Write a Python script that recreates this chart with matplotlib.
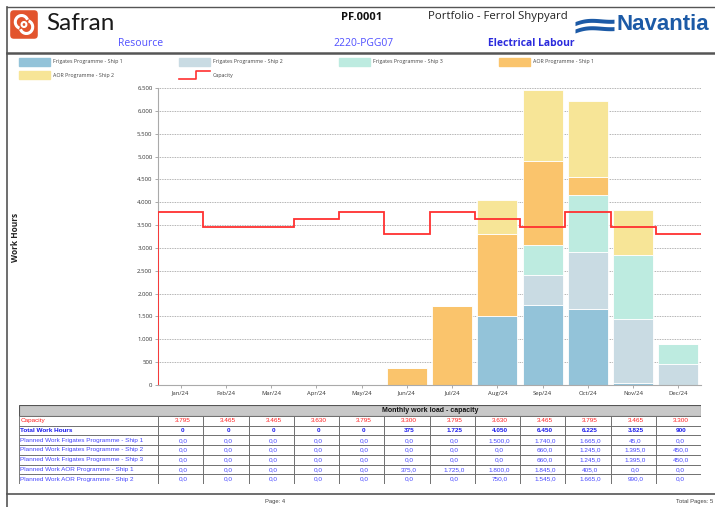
import numpy as np
import matplotlib
matplotlib.use("Agg")
import matplotlib.pyplot as plt
from matplotlib.patches import Rectangle, FancyBboxPatch, Arc
from matplotlib.lines import Line2D

# --- data -------------------------------------------------------------------
months = ["Jan/24", "Feb/24", "Mar/24", "Apr/24", "May/24", "Jun/24",
          "Jul/24", "Aug/24", "Sep/24", "Oct/24", "Nov/24", "Dec/24"]
capacity = [3795, 3465, 3465, 3630, 3795, 3300, 3795, 3630, 3465, 3795, 3465, 3300]
frig1 = [0, 0, 0, 0, 0, 0, 0, 1500, 1740, 1665, 45, 0]
frig2 = [0, 0, 0, 0, 0, 0, 0, 0, 660, 1245, 1395, 450]
frig3 = [0, 0, 0, 0, 0, 0, 0, 0, 660, 1245, 1395, 450]
aor1 = [0, 0, 0, 0, 0, 375, 1725, 1800, 1845, 405, 0, 0]
aor2 = [0, 0, 0, 0, 0, 0, 0, 750, 1545, 1665, 990, 0]

series_names = ["Frigates Programme - Ship 1", "Frigates Programme - Ship 2",
                "Frigates Programme - Ship 3", "AOR Programme - Ship 1",
                "AOR Programme - Ship 2"]
series = [frig1, frig2, frig3, aor1, aor2]
colors = ["#93c3d9", "#c9dbe3", "#bdebe0", "#fac46c", "#f7e597"]
CAP_RED = "#ff3030"

W, H = 715, 507


def fbox(x0, y0, x1, y1):
    return [x0 / W, 1 - y1 / H, (x1 - x0) / W, (y1 - y0) / H]


def fx(x):
    return x / W


def fy(y):
    return 1 - y / H


def eu(v, dec=0):
    s = f"{v:,.{dec}f}"
    return s.replace(",", "#").replace(".", ",").replace("#", ".")


fig = plt.figure(figsize=(W / 100, H / 100), dpi=100)

# --- page frame -------------------------------------------------------------
for (x0, y0, x1, y1, lw) in [(7, 7, 715, 7, 1.0), (7, 7, 7, 507, 1.2),
                             (7, 53, 715, 53, 1.8), (7, 494, 715, 494, 1.2)]:
    fig.add_artist(Line2D([fx(x0), fx(x1)], [fy(y0), fy(y1)], color="#555555", lw=lw))

# --- header -----------------------------------------------------------------
logo = fig.add_axes(fbox(9, 9, 39, 40))
logo.set_xlim(0, 1); logo.set_ylim(0, 1); logo.axis("off")
logo.add_patch(FancyBboxPatch((0.04, 0.04), 0.92, 0.92, boxstyle="round,pad=0,rounding_size=0.12",
                              fc="#e2542d", ec="none"))
logo.add_patch(Arc((0.42, 0.58), 0.42, 0.42, theta1=20, theta2=250, color="white", lw=2.2))
logo.add_patch(Arc((0.58, 0.42), 0.42, 0.42, theta1=200, theta2=430, color="white", lw=2.2))
logo.add_patch(Arc((0.5, 0.5), 0.16, 0.16, theta1=0, theta2=360, color="white", lw=1.5))

fig.text(fx(46), fy(24), "Safran", fontsize=17.5, family="Lato",
         va="center", ha="left", color="#1a1a1a")
fig.text(fx(118), fy(43), "Resource", fontsize=7.5, family="Open Sans",
         color="#5050ff", va="center")
fig.text(fx(341), fy(17), "PF.0001", fontsize=8, weight="bold", family="Open Sans",
         va="center", color="#111111")
fig.text(fx(333), fy(43), "2220-PGG07", fontsize=7.5, family="Open Sans",
         color="#5050ff", va="center")
fig.text(fx(428), fy(17), "Portfolio - Ferrol Shypyard", fontsize=8.2,
         family="Open Sans", va="center", color="#222222")
fig.text(fx(488), fy(43), "Electrical Labour", fontsize=7.5, weight="bold",
         family="Open Sans", color="#2b2bdd", va="center")

nav = fig.add_axes(fbox(575, 14, 614, 34))
nav.set_xlim(0, 1); nav.set_ylim(0, 1); nav.axis("off")
NAVY = "#1c5aa6"
t = np.linspace(0, 1, 40)
for off in (0.62, 0.25):
    top = off + 0.2 * np.sin(np.pi * t) * (1 - t) + 0.12 * t
    nav.fill_between(t, top - 0.2, top, color=NAVY, lw=0)
fig.text(fx(617), fy(24), "Navantia", fontsize=16, weight="bold",
         family="Liberation Sans", color=NAVY, va="center")

# --- legend -----------------------------------------------------------------
leg_pos = [(19, 62), (179, 62), (339, 62), (499, 62), (19, 75)]
for k, (lx, ly) in enumerate(leg_pos):
    fig.add_artist(Rectangle((fx(lx), fy(ly + 4)), 31 / W, 8 / H, color=colors[k],
                             transform=fig.transFigure))
    fig.text(fx(lx + 34), fy(ly), series_names[k], fontsize=3.8, va="center",
             family="Open Sans", color="#444444")
fig.add_artist(Line2D([fx(179), fx(196), fx(196), fx(210)],
                      [fy(79), fy(79), fy(71), fy(71)], color=CAP_RED, lw=1.2))
fig.text(fx(213), fy(75), "Capacity", fontsize=3.8, va="center",
         family="Open Sans", color="#444444")

# --- chart ------------------------------------------------------------------
ax = fig.add_axes(fbox(158, 88, 701, 385))
x = np.arange(len(months))
bottom = np.zeros(len(months))
for vals, c in zip(series, colors):
    ax.bar(x, vals, 0.88, bottom=bottom, color=c, edgecolor="white", lw=0.6, zorder=2)
    bottom += np.array(vals)

edges = np.arange(len(months) + 1) - 0.5
ax.stairs(capacity, edges, baseline=None, color=CAP_RED, lw=1.3, zorder=3)
ax.vlines(edges[0], 0, capacity[0], color=CAP_RED, lw=1.3, zorder=3)

ax.set_xlim(-0.5, len(months) - 0.5)
ax.set_ylim(0, 6500)
ax.set_yticks(np.arange(0, 6501, 500))
ax.set_yticklabels([eu(v) for v in np.arange(0, 6501, 500)], fontsize=4.3,
                   family="Open Sans", color="#333333")
ax.set_xticks(x)
ax.set_xticklabels(months, fontsize=4.2, family="Open Sans", color="#333333")
ax.tick_params(axis="both", length=2, width=0.5, color="#888888", pad=2)
ax.grid(axis="y", ls=(0, (1, 1)), lw=0.6, color="#999999", zorder=0)
ax.set_axisbelow(True)
for s in ("top", "right"):
    ax.spines[s].set_visible(False)
for s in ("left", "bottom"):
    ax.spines[s].set_color("#aaaaaa")
    ax.spines[s].set_linewidth(0.8)

fig.text(fx(16), fy(237), "Work Hours", rotation=90, fontsize=6, weight="bold",
         family="Open Sans", va="center", ha="center", color="#222222")

# --- table ------------------------------------------------------------------
tab = fig.add_axes(fbox(19, 405, 701, 484))
tab.set_xlim(19, 701); tab.set_ylim(484, 405); tab.axis("off")
col_w = (701 - 158) / len(months)
label_x0, label_x1 = 19, 158
hdr_y0, hdr_y1 = 405, 416
row_h = (484 - hdr_y1) / 7

tab.add_patch(Rectangle((label_x0, hdr_y0), 701 - label_x0, hdr_y1 - hdr_y0,
                        fc="#c8c8c8", ec="#555555", lw=0.8))
tab.text(430, (hdr_y0 + hdr_y1) / 2, "Monthly work load - capacity", fontsize=5,
         weight="bold", ha="center", va="center", family="Liberation Sans", color="#111111")

total = [int(sum(v)) for v in zip(*series)]
rows = [("Capacity", [eu(v) for v in capacity], "#ff2020", "normal"),
        ("Total Work Hours", [eu(v) for v in total], "#1a1aee", "bold")]
for name, vals in zip(series_names, series):
    rows.append(("Planned Work " + name, [eu(v, 1) for v in vals], "#4646ff", "normal"))

for r, (lab, vals, col, wt) in enumerate(rows):
    y0 = hdr_y1 + r * row_h
    yc = y0 + row_h / 2
    tab.add_patch(Rectangle((label_x0, y0), label_x1 - label_x0, row_h,
                            fc="white", ec="#666666", lw=0.6))
    tab.text(label_x0 + 1.5, yc, lab, fontsize=4.6, color=col, weight=wt,
             va="center", ha="left", family="Liberation Sans")
    for i, v in enumerate(vals):
        cx0 = label_x1 + i * col_w
        tab.add_patch(Rectangle((cx0, y0), col_w, row_h, fc="white", ec="#666666", lw=0.6))
        tab.text(cx0 + col_w * 0.55, yc, v, fontsize=4.6, color=col, weight=wt,
                 va="center", ha="center", family="Liberation Sans")

# --- footer -----------------------------------------------------------------
fig.text(fx(265), fy(502), "Page: 4", fontsize=4.2, va="center",
         family="Liberation Sans", color="#444444")
fig.text(fx(676), fy(502), "Total Pages: 5", fontsize=4.2, va="center",
         family="Liberation Sans", color="#444444")

fig.savefig("out.png", dpi=100)
